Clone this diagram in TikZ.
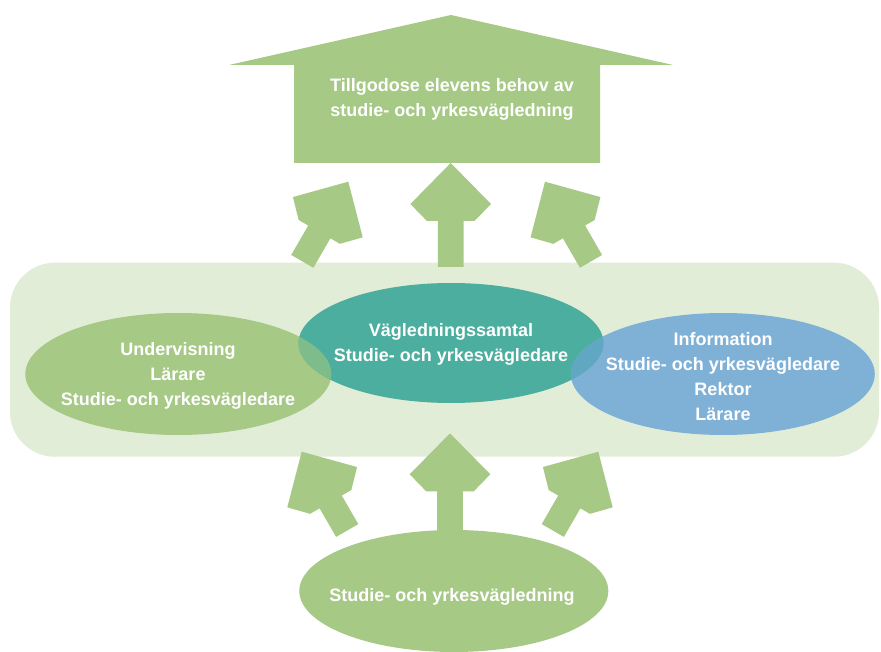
\documentclass[tikz,border=0pt]{standalone}
\usepackage{fontspec}
\setmainfont{Liberation Sans}
\definecolor{agreen}{HTML}{A6C986}
\definecolor{bandc}{HTML}{E2EDD7}
\definecolor{cteal}{HTML}{4BAE9E}
\definecolor{cblue}{HTML}{7FB1D7}
\definecolor{mixgt}{HTML}{7FBC8C}
\definecolor{mixtb}{HTML}{60A7C1}
\newcommand\blockarrow[4]{%
  \fill[agreen, shift={(#1,#2)}, rotate=#3] (0,0) -- (40.3,41) -- (23.8,58) -- (12.8,58) -- (12.8,#4) -- (-12.8,#4) -- (-12.8,58) -- (-23.8,58) -- (-40.3,41) -- cycle;}
\tikzset{
  txt/.style={text=white, font=\bfseries\fontsize{18}{25}\selectfont, align=center, inner sep=0pt},
}
\begin{document}
\begin{tikzpicture}[x=1pt,y=-1pt]
\useasboundingbox[fill=white] (0,0) rectangle (881,652);
% band
\fill[bandc, rounded corners=45] (10,262.7) rectangle (879,456.7);
% top house arrow
\fill[agreen] (451,15) -- (673,65) -- (600,65) -- (600,163) -- (294,163) -- (294,65) -- (229,65) -- cycle;
% upper arrows
\blockarrow{450.7}{163}{0}{104}
\blockarrow{348.3}{181.7}{-30}{92}
\blockarrow{545}{181.7}{30}{92}
% lower arrows
\blockarrow{450}{433.3}{0}{99}
\blockarrow{301.7}{451.7}{30}{91}
\blockarrow{598.3}{451.7}{-30}{91}
% ellipses
\fill[agreen] (178.3,374) ellipse [x radius=153, y radius=61];
\fill[cteal] (451,343) ellipse [x radius=152.5, y radius=60];
\fill[cblue] (722.8,374) ellipse [x radius=152, y radius=61];
\begin{scope}
  \clip (178.3,374) ellipse [x radius=153, y radius=61];
  \fill[mixgt] (451,343) ellipse [x radius=152.5, y radius=60];
\end{scope}
\begin{scope}
  \clip (722.8,374) ellipse [x radius=152, y radius=61];
  \fill[mixtb] (451,343) ellipse [x radius=152.5, y radius=60];
\end{scope}
\fill[agreen] (453.8,591) ellipse [x radius=154.5, y radius=61];
% texts
\node[txt] (goal) at (452,99.5) {Tillgodose elevens behov av\\studie- och yrkesvägledning};
\node[txt] (undervisning) at (178,375.5) {Undervisning\\Lärare\\Studie- och yrkesvägledare};
\node[txt] (samtal) at (451,344) {Vägledningssamtal\\Studie- och yrkesvägledare};
\node[txt] (information) at (723,376.5) {Information\\Studie- och yrkesvägledare\\Rektor\\Lärare};
\node[txt] (bottom) at (452,596.7) {Studie- och yrkesvägledning};
\end{tikzpicture}
\end{document}
